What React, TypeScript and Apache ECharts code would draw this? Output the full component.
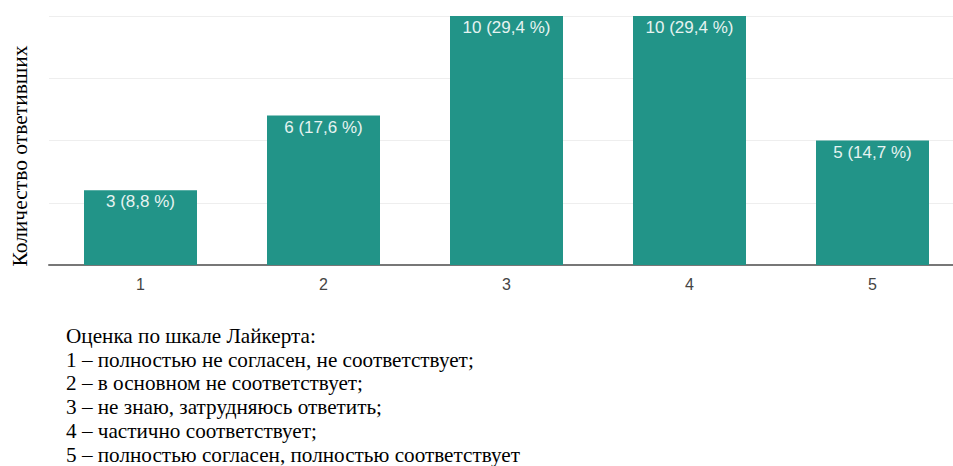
import React, { useEffect, useRef } from "react";
import * as echarts from "echarts";

const categories = ["1", "2", "3", "4", "5"];
const counts = [3, 6, 10, 10, 5];
const percents = ["8,8", "17,6", "29,4", "29,4", "14,7"];
const yAxisTitle = "Количество ответивших";
const captionLines = [
  "Оценка по шкале Лайкерта:",
  "1 – полностью не согласен, не соответствует;",
  "2 – в основном не соответствует;",
  "3 – не знаю, затрудняюсь ответить;",
  "4 – частично соответствует;",
  "5 – полностью согласен, полностью соответствует",
];

export default function App() {
  const ref = useRef<HTMLDivElement>(null);
  useEffect(() => {
    if (!ref.current) return;
    const chart = echarts.init(ref.current, undefined, { renderer: "svg" });
    const captionGraphics = captionLines.map((t, i) => ({
      type: "text",
      x: 66,
      y: 336 + i * 23.7,
      style: {
        text: t,
        font: '21.2px "Liberation Serif", "Times New Roman", serif',
        fill: "#000",
        verticalAlign: "middle",
      },
    }));
    chart.setOption({
      animation: false,
      backgroundColor: "#fff",
      grid: {
        left: 49,
        width: 915,
        top: 16,
        height: 249,
        outerBoundsMode: "none",
        containLabel: false,
      },
      xAxis: {
        type: "category",
        data: categories,
        axisLine: { lineStyle: { color: "#777", width: 2 } },
        axisTick: { show: false },
        axisLabel: {
          color: "#444",
          fontSize: 16,
          fontFamily: '"Liberation Sans", Arial, sans-serif',
          margin: 11,
        },
      },
      yAxis: {
        type: "value",
        min: 0,
        max: 10,
        interval: 2.5,
        axisLabel: { show: false },
        axisLine: { show: false },
        axisTick: { show: false },
        splitLine: { lineStyle: { color: "#eeeeee", width: 1 } },
      },
      series: [
        {
          type: "bar",
          data: counts,
          barWidth: 113,
          itemStyle: { color: "#229488" },
          label: {
            show: true,
            position: "insideTop",
            distance: 3,
            color: "#e6f3f1",
            fontSize: 17,
            fontFamily: '"Liberation Sans", Arial, sans-serif',
            formatter: (p: any) => `${counts[p.dataIndex]} (${percents[p.dataIndex]} %)`,
          },
        },
      ],
      graphic: [
        {
          type: "text",
          x: 20,
          y: 156,
          rotation: Math.PI / 2,
          style: {
            text: yAxisTitle,
            font: '21.5px "Liberation Serif", "Times New Roman", serif',
            fill: "#000",
            align: "center",
            verticalAlign: "middle",
          },
        },
        ...captionGraphics,
      ],
    });
    return () => chart.dispose();
  }, []);
  return (
    <div
      ref={ref}
      style={{ position: "absolute", left: 0, top: 0, width: 953, height: 466 }}
    />
  );
}
